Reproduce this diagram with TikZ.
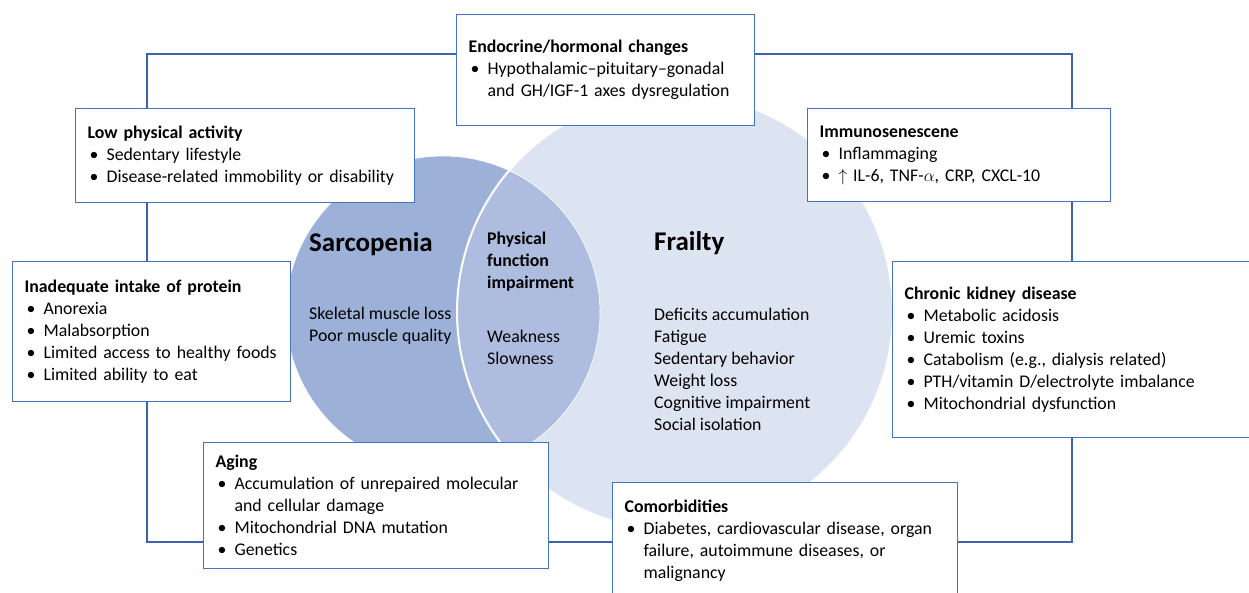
\documentclass[tikz,border=0pt]{standalone}
\usepackage{fontspec}
\setmainfont{Carlito}
\usetikzlibrary{positioning}
\definecolor{boxblue}{HTML}{4472C4}
\definecolor{lineblue}{HTML}{3C62B0}
\definecolor{sarcfill}{HTML}{9DB1D8}
\definecolor{frailfill}{HTML}{DCE3F1}
\definecolor{bothfill}{HTML}{AEBDDF}
\newcommand{\boxfont}{\fontsize{17.8}{22}\selectfont}
\newcommand{\itm}[1]{\par\hangindent=19pt\hangafter=1\noindent\makebox[19pt][l]{\hspace{2pt}\textbullet}#1\par}
\tikzset{
	x=1pt, y=-1pt, % Coordenadas en pixeles, y hacia abajo
	box/.style={draw=boxblue, line width=1.2pt, fill=white, anchor=north west,
		inner xsep=12pt, inner ysep=0pt, align=left, font=\boxfont}, % Cajas de factores
	link/.style={draw=lineblue, line width=1.2pt}, % Lineas del marco
	circtext/.style={inner sep=0pt, anchor=west, align=left, font=\boxfont}, % Texto en circulos
	circtitle/.style={inner sep=0pt, anchor=west, font=\fontsize{27}{30}\selectfont\bfseries} % Titulos de circulos
}

\begin{document}
\begin{tikzpicture}
	\useasboundingbox (0,0) rectangle (1249,592);
	% circulos
	\fill[sarcfill] (443,313) circle[radius=157];
	\fill[frailfill] (675,312) circle[radius=218];
	\begin{scope}
		\clip (443,313) circle[radius=157];
		\fill[bothfill] (675,312) circle[radius=218];
	\end{scope}
	\draw[white, line width=0.6pt] (443,313) circle[radius=157];
	\draw[white, line width=2pt] (675,312) circle[radius=218];
	\node[circtitle] (sarct) at (309,244) {Sarcopenia};
	\node[circtext] (sarcl) at (309,326) {Skeletal muscle loss\\Poor muscle quality};
	\node[circtext, font=\boxfont\bfseries] (bothT) at (487,262) {Physical\\function\\impairment};
	\node[circtext] (bothl) at (487,347) {Weakness\\Slowness};
	\node[circtitle] (frailt) at (654,243) {Frailty};
	\node[circtext] (fraill) at (654,369) {Deficits accumulation\\Fatigue\\Sedentary behavior\\Weight loss\\Cognitive impairment\\Social isolation};
	% cajas
	\node[box, text width=274pt, minimum height=111pt] (endo) at (456,14)
		{\textbf{Endocrine/hormonal changes}\itm{Hypothalamic--pituitary--gonadal\newline and GH/IGF-1 axes dysregulation}};
	\node[box, text width=315pt, minimum height=94pt] (lowpa) at (75,108)
		{\textbf{Low physical activity}\itm{Sedentary lifestyle}\itm{Disease-related immobility or disability}};
	\node[box, text width=279pt, minimum height=93pt] (immuno) at (807,108)
		{\textbf{Immunosenescene}\itm{Inflammaging}\itm{$\uparrow$ IL-6, TNF-$\alpha$, CRP, CXCL-10}};
	\node[box, text width=254pt, minimum height=140pt] (prot) at (12,261)
		{\textbf{Inadequate intake of protein}\itm{Anorexia}\itm{Malabsorption}\itm{Limited access to healthy foods}\itm{Limited ability to eat}};
	\node[box, text width=346pt, minimum height=176pt] (ckd) at (892,261)
		{\textbf{Chronic kidney disease}\itm{Metabolic acidosis}\itm{Uremic toxins}\itm{Catabolism (e.g., dialysis related)}\itm{PTH/vitamin D/electrolyte imbalance}\itm{Mitochondrial dysfunction}};
	\node[box, text width=321pt, minimum height=126pt] (aging) at (203,442)
		{\textbf{Aging}\itm{Accumulation of unrepaired molecular\newline and cellular damage}\itm{Mitochondrial DNA mutation}\itm{Genetics}};
	\node[box, text width=321pt, minimum height=116pt] (comorb) at (612,482)
		{\textbf{Comorbidities}\itm{Diabetes, cardiovascular disease, organ\newline failure, autoimmune diseases, or\newline malignancy}};
	% marco
	\coordinate (ctl) at (147,54);
	\coordinate (ctr) at (1072,54);
	\coordinate (cbl) at (147,542);
	\coordinate (cbr) at (1072,542);
	\draw[link] (lowpa.north -| ctl) -- (ctl) -- (endo.west |- ctl);
	\draw[link] (endo.east |- ctr) -- (ctr) -- (immuno.north -| ctr);
	\draw[link] (immuno.south -| ctr) -- (ckd.north -| ctr);
	\draw[link] (ckd.south -| cbr) -- (cbr) -- (comorb.east |- cbr);
	\draw[link] (comorb.west |- cbl) -- (aging.east |- cbl);
	\draw[link] (aging.west |- cbl) -- (cbl) -- (prot.south -| cbl);
	\draw[link] (prot.north -| ctl) -- (lowpa.south -| ctl);
\end{tikzpicture}
\end{document}
